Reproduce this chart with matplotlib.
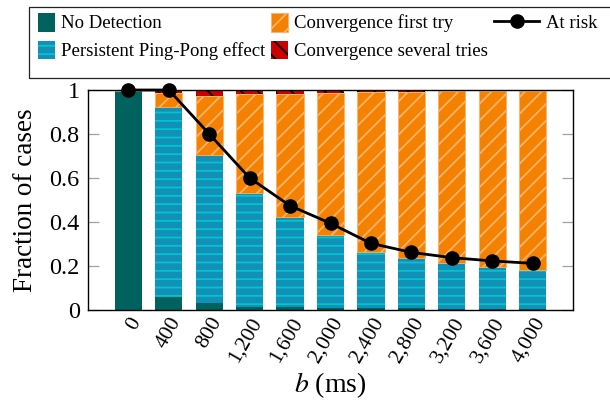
import matplotlib
matplotlib.use("Agg")
import matplotlib.pyplot as plt
from matplotlib.patches import Patch, Rectangle
from matplotlib.lines import Line2D

# data
b_values = [0, 400, 800, 1200, 1600, 2000, 2400, 2800, 3200, 3600, 4000]
no_detection = [0.995, 0.06, 0.03, 0.015, 0.012, 0.01, 0.008, 0.007, 0.006, 0.006, 0.005]
ping_pong = [0.0, 0.864, 0.675, 0.515, 0.412, 0.331, 0.257, 0.228, 0.206, 0.188, 0.177]
conv_first = [0.0, 0.061, 0.269, 0.452, 0.558, 0.644, 0.727, 0.755, 0.783, 0.801, 0.815]
conv_several = [0.005, 0.015, 0.026, 0.018, 0.018, 0.015, 0.008, 0.010, 0.005, 0.005, 0.003]
at_risk = [1.0, 1.0, 0.8, 0.6, 0.474, 0.394, 0.303, 0.262, 0.238, 0.223, 0.212]
y_ticks = [0, 0.2, 0.4, 0.6, 0.8, 1]
y_tick_labels = ["0", "0.2", "0.4", "0.6", "0.8", "1"]
x_tick_labels = ["{:,}".format(v) for v in b_values]

plt.rcParams["font.family"] = ["Liberation Serif", "DejaVu Serif"]
plt.rcParams["mathtext.fontset"] = "stix"
plt.rcParams["hatch.linewidth"] = 1.3

teal = "#00625e"
blue = "#1290b8"
cyan = "#00c6cc"
orange = "#f48200"
orange_hatch = "#f9b26a"
red = "#cc0000"

fig = plt.figure(figsize=(6.1, 4.0), dpi=100)
ax = fig.add_axes([88 / 610, 90 / 400, 485 / 610, 220 / 400])

width = 270
bottom1 = no_detection
bottom2 = [a + p for a, p in zip(no_detection, ping_pong)]
bottom3 = [a + c for a, c in zip(bottom2, conv_first)]

# stacked bars
ax.bar(b_values, no_detection, width=width, color=teal, edgecolor=teal, linewidth=0)
ax.bar(b_values, ping_pong, width=width, bottom=bottom1, color=blue,
       edgecolor=cyan, hatch="--", linewidth=0)
ax.bar(b_values, conv_first, width=width, bottom=bottom2, color=orange,
       edgecolor=orange_hatch, hatch="//", linewidth=0.6)
ax.bar(b_values, conv_several, width=width, bottom=bottom3, color=red,
       edgecolor="black", hatch="\\\\", linewidth=0)

# at risk line
ax.plot(b_values, at_risk, color="black", linewidth=2, marker="o",
        markersize=9.5, clip_on=False, zorder=5)

ax.set_xlim(-400, 4400)
ax.set_ylim(0, 1)
ax.set_yticks(y_ticks, y_tick_labels)
ax.set_xticks(b_values)
ax.set_xticklabels(x_tick_labels, rotation=60, rotation_mode="anchor",
                   ha="right", va="top")
ax.tick_params(axis="x", length=0, pad=3, labelsize=15.5)
ax.tick_params(axis="y", direction="in", length=8, width=0.9, color="#a0a0a0",
               right=True, labelsize=17.5, pad=6)
for s in ax.spines.values():
    s.set_linewidth(1.0)

ax.set_ylabel("Fraction of cases", fontsize=19.5, labelpad=8)
ax.set_xlabel("$b$ (ms)", fontsize=20)
ax.xaxis.set_label_coords(0.5, -0.275)

# legend, drawn as two frameless legends inside one box
patch_handles = [
    Patch(facecolor=teal, edgecolor=teal, linewidth=0),
    Patch(facecolor=blue, edgecolor=cyan, hatch="--", linewidth=0),
    Patch(facecolor=orange, edgecolor=orange_hatch, hatch="//", linewidth=0.6),
    Patch(facecolor=red, edgecolor="black", hatch="\\\\", linewidth=0),
]
patch_labels = ["No Detection", "Persistent Ping-Pong effect",
                "Convergence first try", "Convergence several tries"]
fig.legend(patch_handles, patch_labels, ncol=2, frameon=False,
           loc="upper left", bbox_to_anchor=(37.7 / 610, 1 - 12.7 / 400),
           borderpad=0, borderaxespad=0, fontsize=13.5,
           handlelength=0.9, handleheight=1.17, handletextpad=0.32,
           labelspacing=0.43, columnspacing=0.32)
line_handle = Line2D([], [], color="black", linewidth=2, marker="o", markersize=9.5)
fig.legend([line_handle], ["At risk"], frameon=False,
           loc="upper left", bbox_to_anchor=(494 / 610, 1 - 12.7 / 400),
           borderpad=0, borderaxespad=0, fontsize=13.5,
           handlelength=2.4, handleheight=1.17, handletextpad=0.37)
fig.patches.append(Rectangle((29.3 / 610, 1 - 77.7 / 400), 1.0, 71 / 400,
                             transform=fig.transFigure, fill=False,
                             edgecolor="#222222", linewidth=0.9))

fig.savefig("out.png", dpi=100)
